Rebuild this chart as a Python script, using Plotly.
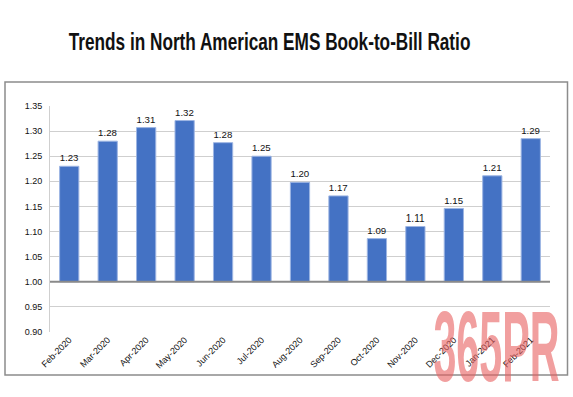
import plotly.graph_objects as go

months = ["Feb-2020", "Mar-2020", "Apr-2020", "May-2020", "Jun-2020", "Jul-2020",
          "Aug-2020", "Sep-2020", "Oct-2020", "Nov-2020", "Dec-2020", "Jan-2021", "Feb-2021"]
ratio = [1.23, 1.28, 1.307, 1.321, 1.277, 1.25, 1.198, 1.171, 1.086, 1.11, 1.146, 1.211, 1.285]
ratio_labels = ["1.23", "1.28", "1.31", "1.32", "1.28", "1.25", "1.20", "1.17",
                "1.09", "1.11", "1.15", "1.21", "1.29"]
y_ticks = [0.90, 0.95, 1.00, 1.05, 1.10, 1.15, 1.20, 1.25, 1.30, 1.35]

W, H = 573, 397
L, R, T, B = 50, 23, 106, 65
pw, ph = W - L - R, H - T - B

def px_x(x):
    return (x - L) / pw

def px_y(y):
    return (H - B - y) / ph

fig = go.Figure()
fig.add_trace(go.Bar(
    x=months, y=[v - 1.0 for v in ratio], base=1.0,
    marker=dict(color="#4472C4", line=dict(color="#9DB5E3", width=1)),
    width=0.5,
    text=ratio_labels, textposition="outside",
    textfont=dict(family="Liberation Sans, Arial", size=10, color="#111"),
    cliponaxis=False,
    hoverinfo="skip",
))

fig.update_layout(
    width=W, height=H,
    margin=dict(l=L, r=R, t=T, b=B),
    paper_bgcolor="white", plot_bgcolor="white",
    showlegend=False,
    bargap=0.5,
    font=dict(family="Liberation Sans, Arial", color="#111"),
    xaxis=dict(
        tickangle=-45, tickfont=dict(size=9, color="#111"),
        showgrid=False, showline=False, ticks="",
    ),
    yaxis=dict(
        range=[0.90, 1.35], tickvals=y_ticks,
        ticktext=[f"{v:.2f}" for v in y_ticks],
        tickfont=dict(size=9, color="#111"),
        showgrid=True, gridcolor="#CFCFCF", gridwidth=1,
        showline=True, linecolor="#CFCFCF", linewidth=1,
        zeroline=False, ticks="", ticklabelstandoff=5,
    ),
    shapes=[
        dict(type="line", xref="paper", yref="y", x0=0, x1=1, y0=1.0, y1=1.0,
             line=dict(color="#8A8A8A", width=2), layer="above"),
        dict(type="rect", xref="paper", yref="paper",
             x0=px_x(5), x1=px_x(567.5), y0=px_y(375), y1=px_y(82),
             line=dict(color="#8C8C8C", width=1.5), layer="above"),
    ],
    annotations=[
        dict(text="<b>Trends in North American EMS Book-to-Bill Ratio</b>",
             xref="paper", yref="paper", x=px_x(269), y=px_y(42),
             xanchor="center", yanchor="middle", showarrow=False,
             font=dict(family="Liberation Sans, Arial", size=23, color="#111")),
        dict(text="<b>365PR</b>",
             xref="paper", yref="paper", x=px_x(496), y=px_y(347),
             xanchor="center", yanchor="middle", showarrow=False,
             font=dict(family="Liberation Sans, Arial", size=50, color="rgba(232,95,95,0.6)")),
    ],
)

post = """
document.body.style.margin = '0';
document.body.style.padding = '0';
var gd = document.getElementById('{plot_id}');
var targets = {'Trends in North American EMS Book-to-Bill Ratio': [402, 1], '365PR': [126, 2]};
function squeeze(){
  var els = gd.querySelectorAll('.annotation-text');
  els.forEach(function(el){
    var t = el.textContent;
    if (targets[t]) {
      el.style.transform = '';
      var w = el.getBBox().width;
      var s = targets[t][0] / w;
      el.style.transformBox = 'fill-box';
      el.style.transformOrigin = 'center';
      el.style.transform = 'scale(' + s + ',' + targets[t][1] + ')';
    }
  });
}
squeeze();
if (gd.on) { gd.on('plotly_afterplot', squeeze); }
"""

fig.write_html("out.html", post_script=post, config={"displayModeBar": False})
